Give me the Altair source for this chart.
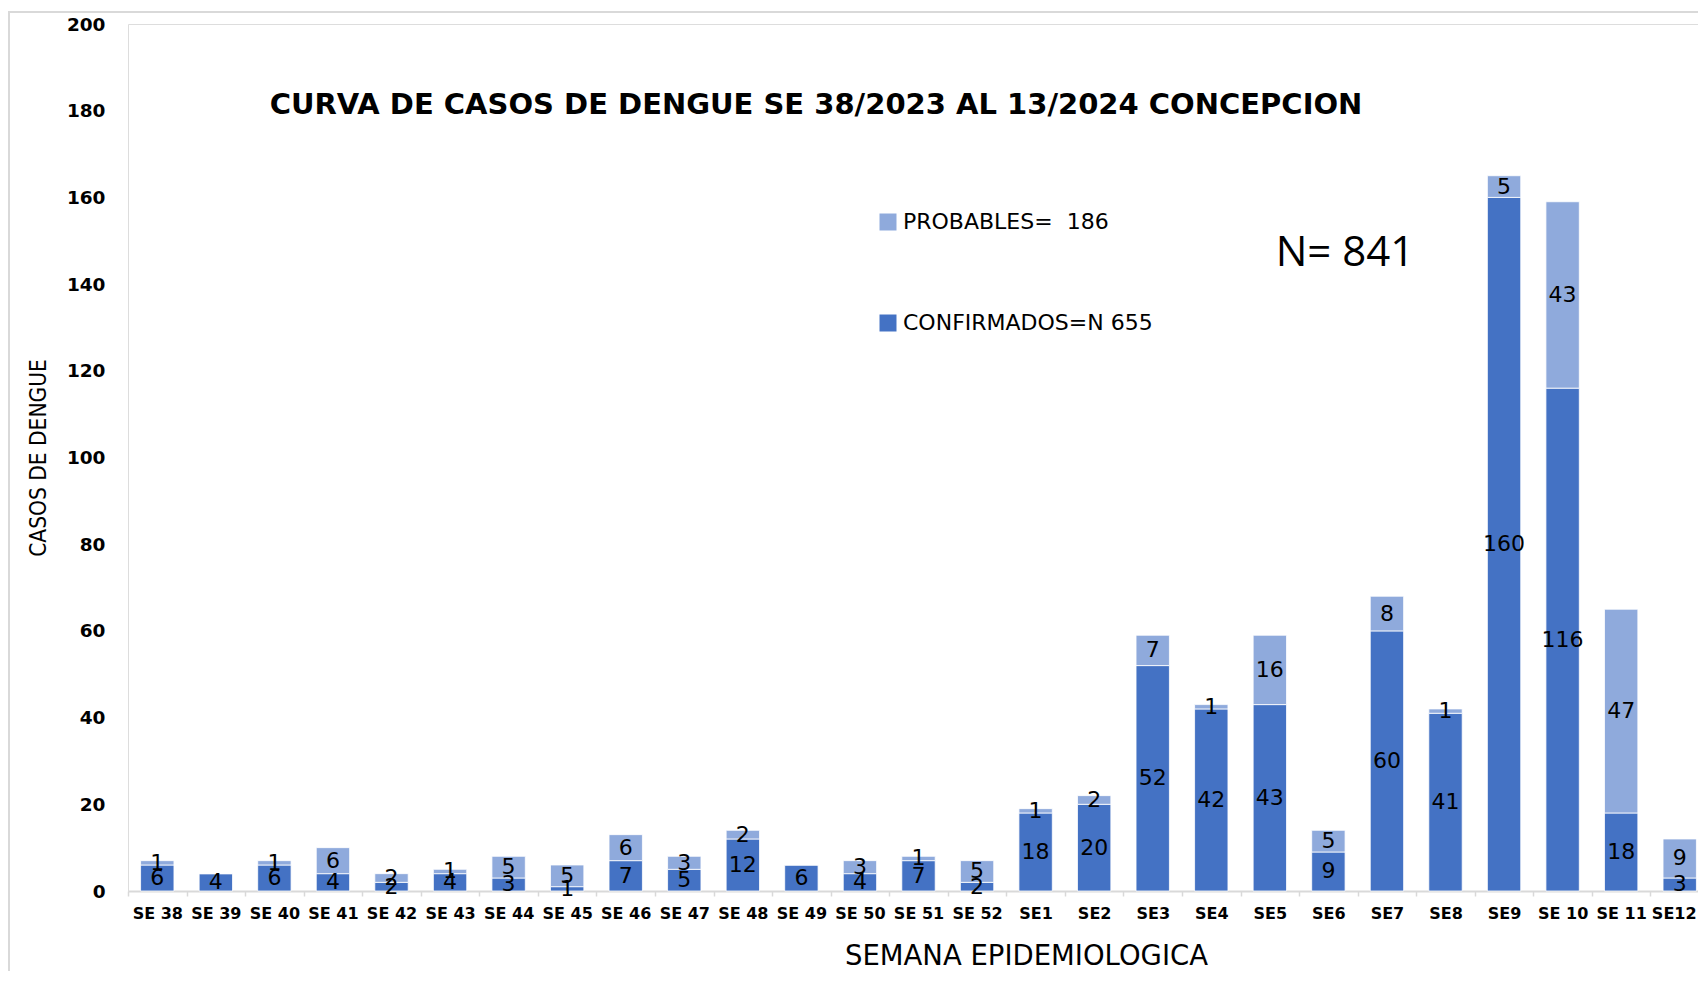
import altair as alt
import pandas as pd

semanas = ["SE 38", "SE 39", "SE 40", "SE 41", "SE 42", "SE 43", "SE 44", "SE 45",
           "SE 46", "SE 47", "SE 48", "SE 49", "SE 50", "SE 51", "SE 52",
           "SE1", "SE2", "SE3", "SE4", "SE5", "SE6", "SE7", "SE8", "SE9",
           "SE 10", "SE 11", "SE12"]
confirmados = [6, 4, 6, 4, 2, 4, 3, 1, 7, 5, 12, 6, 4, 7, 2,
               18, 20, 52, 42, 43, 9, 60, 41, 160, 116, 18, 3]
probables = [1, 0, 1, 6, 2, 1, 5, 5, 6, 3, 2, 0, 3, 1, 5,
             1, 2, 7, 1, 16, 5, 8, 1, 5, 43, 47, 9]
series = ["PROBABLES=\u00a0 186", "CONFIRMADOS=N 655"]
colores = ["#8FAADC", "#4472C4"]
y_ticks = list(range(0, 201, 20))
titulo = "CURVA DE CASOS DE DENGUE SE 38/2023 AL 13/2024 CONCEPCION"
total_txt = "N= 841"

rows = []
for s, c, p in zip(semanas, confirmados, probables):
    rows.append({"semana": s, "serie": series[1], "valor": c, "ord": 0})
    rows.append({"semana": s, "serie": series[0], "valor": p, "ord": 1})
df = pd.DataFrame(rows)

W, H = 1570, 867
XR = 1581

last = semanas[-1]

x_enc = alt.X("semana:N", sort=semanas,
              scale=alt.Scale(paddingInner=0, paddingOuter=0, range=[0, XR]),
              axis=alt.Axis(title="SEMANA EPIDEMIOLOGICA", labelAngle=0,
                            labelOffset={"expr": "datum.value == '%s' ? -6 : 0" % last},
                            labelFont="DejaVu Sans", labelFontSize=16,
                            labelFontWeight="bold", labelColor="black",
                            labelPadding=9, tickBand="extent", tickSize=5,
                            tickColor="#D9D9D9", tickWidth=1.5,
                            domainColor="#D9D9D9", domainWidth=2,
                            titleFont="DejaVu Sans", titleFontSize=27.5,
                            titleFontWeight="normal", titleColor="black",
                            titleX=898, titleY=65, titleBaseline="middle",
                            titleAlign="center", grid=False))

bars = alt.Chart(df).mark_bar(width=alt.RelativeBandSize(0.57),
                              stroke="white", strokeWidth=0.8).encode(
    x=x_enc,
    y=alt.Y("valor:Q", stack="zero",
            scale=alt.Scale(domain=[0, 200], nice=False),
            axis=alt.Axis(values=y_ticks, title="CASOS DE DENGUE", grid=False,
                          ticks=False, domain=False, labelPadding=23,
                          labelFont="DejaVu Sans", labelFontSize=18.5,
                          labelFontWeight="bold", labelColor="black",
                          titleFont="Liberation Sans Narrow, DejaVu Sans Condensed",
                          titleFontSize=22.5, titleFontWeight="normal",
                          titleColor="black", titleX=-90, titleY=H / 2,
                          titleAngle=-90, titleAlign="center",
                          titleBaseline="middle")),
    color=alt.Color("serie:N", sort=series,
                    scale=alt.Scale(domain=series, range=colores),
                    legend=alt.Legend(title=None, orient="none",
                                      legendX=749, legendY=187,
                                      symbolType="square", symbolSize=289,
                                      symbolStrokeWidth=0, rowPadding=79,
                                      labelOffset=4, labelFont="DejaVu Sans",
                                      labelFontSize=22, labelColor="black",
                                      labelLimit=600)),
    order=alt.Order("ord:Q", sort="ascending"),
)

labels = alt.Chart(df).transform_filter(
    alt.datum.valor > 0
).transform_stack(
    stack="valor", groupby=["semana"], sort=[alt.SortField("ord")], as_=["y0", "y1"]
).transform_calculate(
    mid="(datum.y0 + datum.y1) / 2"
).mark_text(font="DejaVu Sans", fontSize=22, color="black", baseline="middle").encode(
    x=alt.X("semana:N", sort=semanas),
    y=alt.Y("mid:Q"),
    text="valor:Q",
)

total = alt.Chart(pd.DataFrame({"t": [total_txt]})).mark_text(
    font="Open Sans", fontSize=42, color="black", baseline="middle", align="center"
).encode(x=alt.value(1217), y=alt.value(229), text="t:N")

frame = alt.Chart(pd.DataFrame({"t": [0]})).mark_rect(
    fill=None, fillOpacity=0, stroke="#D9D9D9", strokeWidth=2
).encode(x=alt.value(-119), x2=alt.value(W + 100), y=alt.value(-12), y2=alt.value(H + 300))

chart = alt.layer(frame, bars, labels, total).properties(
    width=W, height=H,
    autosize=alt.AutoSizeParams(type="none"),
    padding={"left": 120, "top": 16, "right": 0, "bottom": 80},
    title=alt.TitleParams(titulo, font="DejaVu Sans", fontSize=29, fontWeight="bold",
                          color="black", anchor="middle", frame="group",
                          offset=0, dx=-97, dy=123, baseline="middle"),
).configure_view(stroke=None).configure(background="white")

chart.save("out.html", embed_options={"renderer": "svg", "actions": False})
